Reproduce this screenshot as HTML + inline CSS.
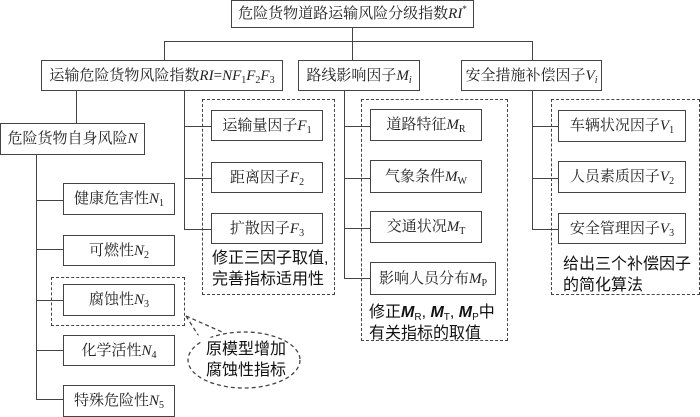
<!DOCTYPE html>
<html><head><meta charset="utf-8"><style>
body{margin:0;width:700px;height:415px;background:#fff;position:relative;overflow:hidden;font-family:"Liberation Serif","Noto Serif CJK SC",serif;color:#222}
.b{position:absolute;border:1.5px solid #444;box-sizing:border-box;display:flex;align-items:center;justify-content:center;font-size:15px;white-space:nowrap;background:#fff}
.b>span{display:block;line-height:18px}
.d{position:absolute;border:1.3px dashed #444;box-sizing:border-box}
.h{position:absolute;height:0;border-top:1.5px solid #444}
.v{position:absolute;width:0;border-left:1.5px solid #444}
.t{position:absolute;font-family:"Liberation Sans","Noto Sans CJK SC",sans-serif;font-size:16px;line-height:21px;white-space:nowrap;color:#111}
i{font-style:italic}
sub{font-size:10px;vertical-align:-3px;line-height:0}
sup{font-size:9px;line-height:0}
</style></head><body>
<div class="v" style="left:352px;top:27px;height:33px"></div>
<div class="h" style="left:164px;top:41px;width:368px"></div>
<div class="v" style="left:164px;top:41px;height:19px"></div>
<div class="v" style="left:532px;top:41px;height:19px"></div>
<div class="v" style="left:76px;top:90px;height:33px"></div>
<div class="v" style="left:184px;top:90px;height:139px"></div>
<div class="h" style="left:184px;top:126px;width:27px"></div>
<div class="h" style="left:184px;top:178px;width:27px"></div>
<div class="h" style="left:184px;top:229px;width:27px"></div>
<div class="v" style="left:36px;top:155px;height:245px"></div>
<div class="h" style="left:36px;top:200px;width:27px"></div>
<div class="h" style="left:36px;top:249px;width:27px"></div>
<div class="h" style="left:36px;top:300px;width:27px"></div>
<div class="h" style="left:36px;top:350px;width:27px"></div>
<div class="h" style="left:36px;top:399px;width:27px"></div>
<div class="v" style="left:344px;top:90px;height:189px"></div>
<div class="h" style="left:344px;top:126px;width:26px"></div>
<div class="h" style="left:344px;top:178px;width:26px"></div>
<div class="h" style="left:344px;top:228px;width:26px"></div>
<div class="h" style="left:344px;top:278px;width:26px"></div>
<div class="v" style="left:532px;top:90px;height:139px"></div>
<div class="h" style="left:532px;top:126px;width:26px"></div>
<div class="h" style="left:532px;top:178px;width:26px"></div>
<div class="h" style="left:532px;top:229px;width:26px"></div>
<div class="d" style="left:202px;top:99px;width:133px;height:196px"></div>
<div class="d" style="left:361px;top:99px;width:147px;height:242px"></div>
<div class="d" style="left:551px;top:99px;width:149px;height:196px"></div>
<div class="d" style="left:51px;top:277px;width:134px;height:49px"></div>
<svg style="position:absolute;left:0;top:0" width="700" height="415"><g fill="none" stroke="#444" stroke-width="1.3" stroke-dasharray="4,3">
<path d="M186 316 L200 338"/><path d="M186 316 L222 332"/>
<ellipse cx="244" cy="360" rx="56" ry="28"/></g>
<rect x="192" y="336" width="20" height="6" fill="#fff" stroke="none" transform="rotate(10 202 339)"/>
</svg>
<div class="b" style="left:231px;top:0;width:243px;height:28px"><span>危险货物道路运输风险分级指数<i>RI</i><sup>*</sup></span></div>
<div class="b" style="left:41px;top:60px;width:242px;height:31px"><span>运输危险货物风险指数<i>RI</i>=<i>NF</i><sub>1</sub><i>F</i><sub>2</sub><i>F</i><sub>3</sub></span></div>
<div class="b" style="left:298px;top:60px;width:122px;height:31px"><span>路线影响因子<i>M<sub>i</sub></i></span></div>
<div class="b" style="left:461px;top:60px;width:141px;height:31px"><span>安全措施补偿因子<i>V<sub>i</sub></i></span></div>
<div class="b" style="left:0;top:123px;width:145px;height:32px"><span>危险货物自身风险<i>N</i></span></div>
<div class="b" style="left:211px;top:110px;width:112px;height:31px"><span>运输量因子<i>F</i><sub>1</sub></span></div>
<div class="b" style="left:211px;top:162px;width:112px;height:31px"><span>距离因子<i>F</i><sub>2</sub></span></div>
<div class="b" style="left:211px;top:213px;width:112px;height:31px"><span>扩散因子<i>F</i><sub>3</sub></span></div>
<div class="b" style="left:63px;top:183px;width:112px;height:32px"><span>健康危害性<i>N</i><sub>1</sub></span></div>
<div class="b" style="left:63px;top:235px;width:112px;height:31px"><span>可燃性<i>N</i><sub>2</sub></span></div>
<div class="b" style="left:63px;top:284px;width:112px;height:32px"><span>腐蚀性<i>N</i><sub>3</sub></span></div>
<div class="b" style="left:63px;top:335px;width:112px;height:31px"><span>化学活性<i>N</i><sub>4</sub></span></div>
<div class="b" style="left:63px;top:385px;width:112px;height:32px"><span>特殊危险性<i>N</i><sub>5</sub></span></div>
<div class="b" style="left:370px;top:109px;width:112px;height:32px"><span>道路特征<i>M</i><sub>R</sub></span></div>
<div class="b" style="left:370px;top:160px;width:112px;height:33px"><span>气象条件<i>M</i><sub>W</sub></span></div>
<div class="b" style="left:370px;top:211px;width:112px;height:32px"><span>交通状况<i>M</i><sub>T</sub></span></div>
<div class="b" style="left:370px;top:262px;width:126px;height:33px"><span>影响人员分布<i>M</i><sub>P</sub></span></div>
<div class="b" style="left:558px;top:110px;width:128px;height:32px"><span>车辆状况因子<i>V</i><sub>1</sub></span></div>
<div class="b" style="left:558px;top:161px;width:128px;height:32px"><span>人员素质因子<i>V</i><sub>2</sub></span></div>
<div class="b" style="left:558px;top:213px;width:128px;height:31px"><span>安全管理因子<i>V</i><sub>3</sub></span></div>
<div class="t" style="left:212px;top:248px">修正三因子取值,<br>完善指标适用性</div>
<div class="t" style="left:369px;top:302px">修正<b><i>M</i></b><sub>R</sub>, <b><i>M</i></b><sub>T</sub>, <b><i>M</i></b><sub>P</sub>中<br>有关指标的取值</div>
<div class="t" style="left:563px;top:254px">给出三个补偿因子<br>的简化算法</div>
<div class="t" style="left:206px;top:339px">原模型增加<br>腐蚀性指标</div>
</body></html>
